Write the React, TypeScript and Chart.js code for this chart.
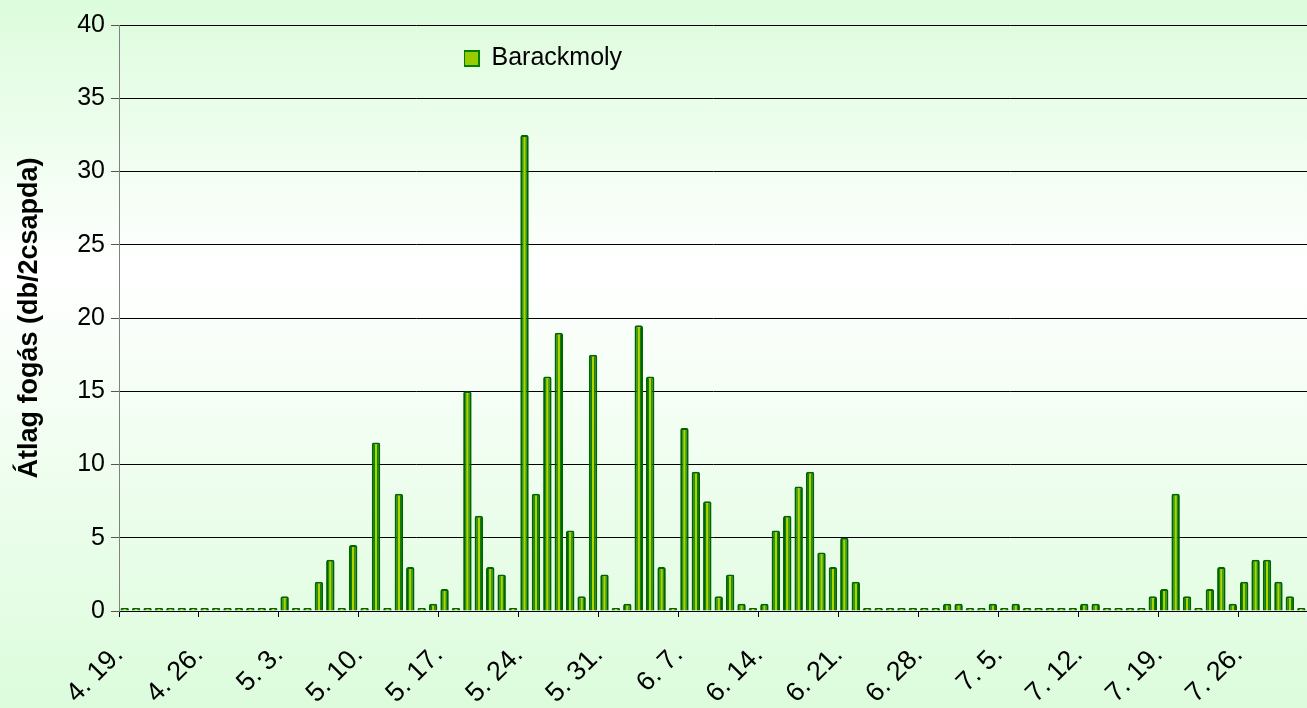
import React, { useEffect, useRef } from "react";
import { Chart, registerables } from "chart.js";

Chart.register(...registerables);

// Category dates (one per day, 4.19. – 7.31.)
const categories: string[] = [
  "4. 19.", "4. 20.", "4. 21.", "4. 22.", "4. 23.", "4. 24.", "4. 25.", "4. 26.", "4. 27.", "4. 28.", "4. 29.", "4. 30.",
  "5. 1.", "5. 2.", "5. 3.", "5. 4.", "5. 5.", "5. 6.", "5. 7.", "5. 8.", "5. 9.", "5. 10.", "5. 11.", "5. 12.", "5. 13.",
  "5. 14.", "5. 15.", "5. 16.", "5. 17.", "5. 18.", "5. 19.", "5. 20.", "5. 21.", "5. 22.", "5. 23.", "5. 24.", "5. 25.",
  "5. 26.", "5. 27.", "5. 28.", "5. 29.", "5. 30.", "5. 31.",
  "6. 1.", "6. 2.", "6. 3.", "6. 4.", "6. 5.", "6. 6.", "6. 7.", "6. 8.", "6. 9.", "6. 10.", "6. 11.", "6. 12.", "6. 13.",
  "6. 14.", "6. 15.", "6. 16.", "6. 17.", "6. 18.", "6. 19.", "6. 20.", "6. 21.", "6. 22.", "6. 23.", "6. 24.", "6. 25.",
  "6. 26.", "6. 27.", "6. 28.", "6. 29.", "6. 30.",
  "7. 1.", "7. 2.", "7. 3.", "7. 4.", "7. 5.", "7. 6.", "7. 7.", "7. 8.", "7. 9.", "7. 10.", "7. 11.", "7. 12.", "7. 13.",
  "7. 14.", "7. 15.", "7. 16.", "7. 17.", "7. 18.", "7. 19.", "7. 20.", "7. 21.", "7. 22.", "7. 23.", "7. 24.", "7. 25.",
  "7. 26.", "7. 27.", "7. 28.", "7. 29.", "7. 30.", "7. 31.",
];

// Barackmoly – average catch (db / 2 traps)
const barackmoly: number[] = [
  0, 0, 0, 0, 0, 0, 0, 0, 0, 0, 0, 0,
  0, 0, 1, 0, 0, 2, 3.5, 0, 4.5, 0, 11.5, 0, 8,
  3, 0, 0.5, 1.5, 0, 15, 6.5, 3, 2.5, 0, 32.5, 8,
  16, 19, 5.5, 1, 17.5, 2.5,
  0, 0.5, 19.5, 16, 3, 0, 12.5, 9.5, 7.5, 1, 2.5, 0.5, 0,
  0.5, 5.5, 6.5, 8.5, 9.5, 4, 3, 5, 2, 0, 0, 0,
  0, 0, 0, 0, 0.5,
  0.5, 0, 0, 0.5, 0, 0.5, 0, 0, 0, 0, 0, 0.5, 0.5,
  0, 0, 0, 0, 1, 1.5, 8, 1, 0, 1.5, 3, 0.5,
  2, 3.5, 3.5, 2, 1, 0,
];

const seriesName = "Barackmoly";
const yTitle = "Átlag fogás (db/2csapda)";
const yMin = 0;
const yMax = 40;
const yStep = 5;
const labelEvery = 7;

const FONT = 'Arial, "Liberation Sans", sans-serif';

export default function App() {
  const ref = useRef<HTMLCanvasElement | null>(null);

  useEffect(() => {
    document.body.style.margin = "0";
    const canvas = ref.current;
    if (!canvas) return;

    const bgPlugin = {
      id: "bgGradient",
      beforeDraw(chart: any) {
        const { ctx, width, height } = chart;
        const g = ctx.createLinearGradient(0, 0, 0, height);
        g.addColorStop(0, "#dcfcdc");
        g.addColorStop(0.38, "#ffffff");
        g.addColorStop(1, "#dcfcdc");
        ctx.save();
        ctx.fillStyle = g;
        ctx.fillRect(0, 0, width, height);
        ctx.restore();
      },
    };

    const legendPlace = {
      id: "legendPlace",
      afterLayout(chart: any) {
        const lg = chart.legend;
        const ca = chart.chartArea;
        if (lg && ca) {
          lg.left = ca.left + 345;
          lg.top = ca.top + 21;
          lg.right = lg.left + 200;
          lg.bottom = lg.top + 40;
        }
      },
    };

    const barFill = (c: any) => {
      const chart = c.chart;
      const sx = chart.scales && chart.scales.x;
      if (!sx || c.type !== "data") return "#a2c800";
      const cx = sx.getPixelForValue(c.dataIndex);
      const half = 4.2;
      const g = chart.ctx.createLinearGradient(cx - half, 0, cx + half, 0);
      g.addColorStop(0, "#006000");
      g.addColorStop(0.32, "#0e8200");
      g.addColorStop(0.42, "#b0d400");
      g.addColorStop(0.58, "#b0d400");
      g.addColorStop(0.68, "#0e8200");
      g.addColorStop(1, "#006000");
      return g;
    };

    const chart = new Chart(canvas, {
      type: "bar",
      data: {
        labels: categories,
        datasets: [
          {
            label: seriesName,
            data: barackmoly,
            backgroundColor: barFill,
            borderColor: "#006400",
            borderWidth: 2,
            borderRadius: 2,
            minBarLength: 3,
            categoryPercentage: 1,
            barPercentage: 0.74,
            xAxisID: "x",
            yAxisID: "y",
          },
        ],
      },
      options: {
        responsive: false,
        animation: false,
        layout: { padding: { top: 25, left: 0, right: 0, bottom: 0 } },
        font: { family: FONT },
        plugins: {
          legend: {
            position: "chartArea",
            align: "start",
            labels: {
              color: "#000",
              font: { family: FONT, size: 25 },
              boxWidth: 15,
              boxHeight: 15,
              padding: 0,
              generateLabels: () => [
                {
                  text: seriesName,
                  fillStyle: "#99cc00",
                  strokeStyle: "#008000",
                  lineWidth: 2,
                  datasetIndex: 0,
                  hidden: false,
                  fontColor: "#000",
                },
              ],
            },
          },
          tooltip: { enabled: false },
        },
        scales: {
          x: {
            type: "category",
            display: false,
            offset: true,
          },
          xl: {
            type: "linear",
            position: "bottom",
            min: 0,
            max: categories.length,
            bounds: "data",
            offset: false,
            afterFit: (s: any) => {
              s.height = 97;
              s.paddingLeft = 0;
              s.paddingRight = 0;
            },
            ticks: {
              stepSize: labelEvery,
              includeBounds: false,
              autoSkip: false,
              minRotation: 45,
              maxRotation: 45,
              padding: 22,
              color: "#000",
              font: { family: FONT, size: 27 },
              callback: (v: any) => {
                const i = Math.round(Number(v));
                return i % labelEvery === 0 && categories[i] ? categories[i] : "";
              },
            },
            grid: {
              offset: false,
              drawOnChartArea: false,
              drawTicks: true,
              tickLength: 6,
              color: "#000",
            },
            border: { display: true, color: "#000", width: 1 },
          },
          y: {
            min: yMin,
            max: yMax,
            afterFit: (s: any) => {
              s.width = 119;
            },
            ticks: {
              stepSize: yStep,
              color: "#000",
              padding: 6,
              font: { family: FONT, size: 25 },
            },
            grid: {
              color: "#000",
              lineWidth: 1,
              tickLength: 8,
              tickColor: "#555",
            },
            border: { display: true, color: "#808080", width: 1 },
            title: {
              display: true,
              text: yTitle,
              color: "#000",
              font: { family: FONT, size: 27, weight: "bold" },
              padding: { top: 13, bottom: 0 },
            },
          },
        },
      },
      plugins: [bgPlugin, legendPlace],
    } as any);

    return () => {
      chart.destroy();
    };
  }, []);

  return (
    <div style={{ width: 1307, height: 708 }}>
      <canvas ref={ref} width={1307} height={708} style={{ display: "block" }} />
    </div>
  );
}
